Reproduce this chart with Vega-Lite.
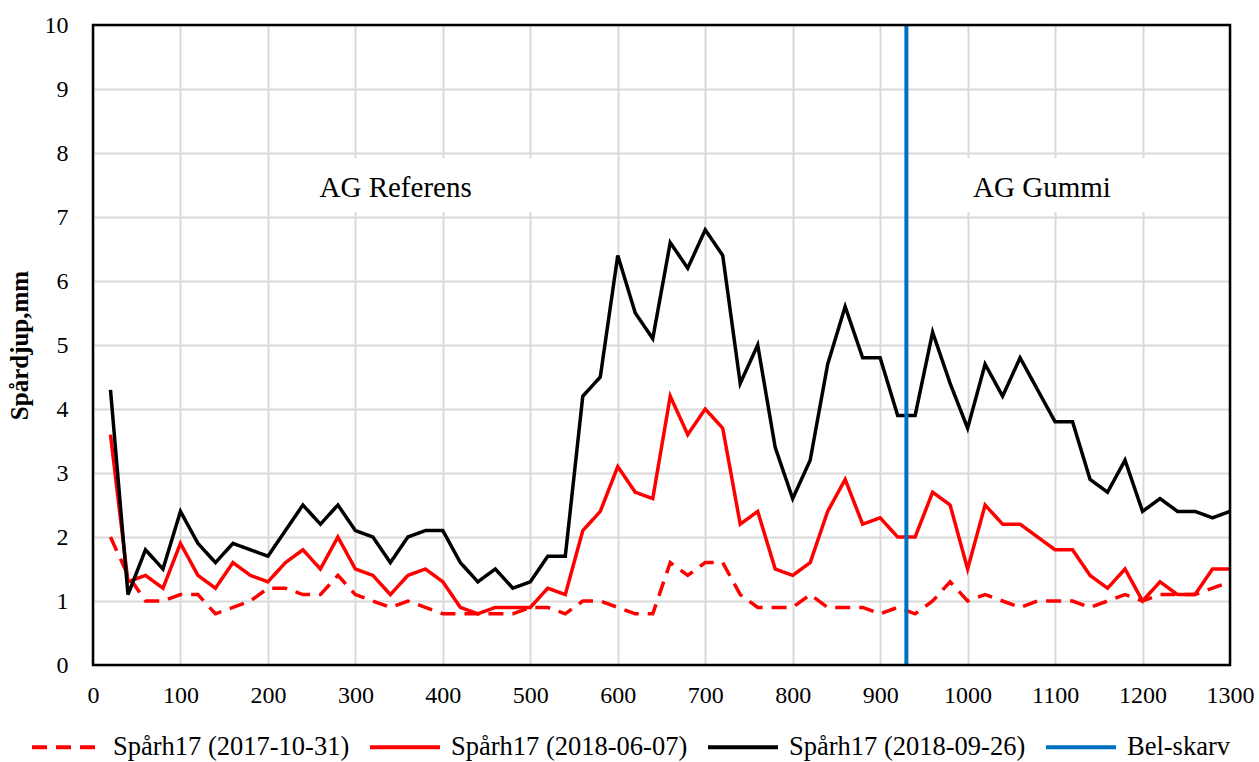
{
  "$schema": "https://vega.github.io/schema/vega-lite/v6.json",
  "width": 1137,
  "height": 640,
  "autosize": {"type": "none"},
  "padding": {"left": 93, "top": 25, "right": 29, "bottom": 97},
  "background": "white",
  "config": {
    "view": {"stroke": null},
    "font": "Liberation Serif",
    "axis": {
      "labelFont": "Liberation Serif",
      "labelFontSize": 24,
      "labelColor": "black",
      "titleFont": "Liberation Serif",
      "titleColor": "black",
      "domain": false,
      "ticks": false,
      "gridColor": "#d9d9d9",
      "gridWidth": 2
    },
    "legend": {
      "orient": "none",
      "legendX": -63,
      "legendY": 685,
      "direction": "horizontal",
      "symbolType": "stroke",
      "symbolSize": 4900,
      "symbolStrokeWidth": 4,
      "labelFont": "Liberation Serif",
      "labelFontSize": 26.5,
      "labelColor": "black",
      "labelLimit": 600,
      "labelOffset": 9,
      "columnPadding": 12
    }
  },
  "layer": [
    {
      "data": {"values": [
        {"x1": 205, "x2": 580, "y1": 7.08, "y2": 7.92},
        {"x1": 945, "x2": 1290, "y1": 7.08, "y2": 7.92}
      ]},
      "mark": {"type": "rect", "color": "white"},
      "encoding": {
        "x": {"field": "x1", "type": "quantitative", "title": null},
        "x2": {"field": "x2"},
        "y": {"field": "y1", "type": "quantitative", "title": "Spårdjup,mm"},
        "y2": {"field": "y2"}
      }
    },
    {
      "data": {"values": [
        {"x": 20, "Spårh17 (2017-10-31)": 2.0, "Spårh17 (2018-06-07)": 3.6, "Spårh17 (2018-09-26)": 4.3},
        {"x": 40, "Spårh17 (2017-10-31)": 1.4, "Spårh17 (2018-06-07)": 1.3, "Spårh17 (2018-09-26)": 1.1},
        {"x": 60, "Spårh17 (2017-10-31)": 1.0, "Spårh17 (2018-06-07)": 1.4, "Spårh17 (2018-09-26)": 1.8},
        {"x": 80, "Spårh17 (2017-10-31)": 1.0, "Spårh17 (2018-06-07)": 1.2, "Spårh17 (2018-09-26)": 1.5},
        {"x": 100, "Spårh17 (2017-10-31)": 1.1, "Spårh17 (2018-06-07)": 1.9, "Spårh17 (2018-09-26)": 2.4},
        {"x": 120, "Spårh17 (2017-10-31)": 1.1, "Spårh17 (2018-06-07)": 1.4, "Spårh17 (2018-09-26)": 1.9},
        {"x": 140, "Spårh17 (2017-10-31)": 0.8, "Spårh17 (2018-06-07)": 1.2, "Spårh17 (2018-09-26)": 1.6},
        {"x": 160, "Spårh17 (2017-10-31)": 0.9, "Spårh17 (2018-06-07)": 1.6, "Spårh17 (2018-09-26)": 1.9},
        {"x": 180, "Spårh17 (2017-10-31)": 1.0, "Spårh17 (2018-06-07)": 1.4, "Spårh17 (2018-09-26)": 1.8},
        {"x": 200, "Spårh17 (2017-10-31)": 1.2, "Spårh17 (2018-06-07)": 1.3, "Spårh17 (2018-09-26)": 1.7},
        {"x": 220, "Spårh17 (2017-10-31)": 1.2, "Spårh17 (2018-06-07)": 1.6, "Spårh17 (2018-09-26)": 2.1},
        {"x": 240, "Spårh17 (2017-10-31)": 1.1, "Spårh17 (2018-06-07)": 1.8, "Spårh17 (2018-09-26)": 2.5},
        {"x": 260, "Spårh17 (2017-10-31)": 1.1, "Spårh17 (2018-06-07)": 1.5, "Spårh17 (2018-09-26)": 2.2},
        {"x": 280, "Spårh17 (2017-10-31)": 1.4, "Spårh17 (2018-06-07)": 2.0, "Spårh17 (2018-09-26)": 2.5},
        {"x": 300, "Spårh17 (2017-10-31)": 1.1, "Spårh17 (2018-06-07)": 1.5, "Spårh17 (2018-09-26)": 2.1},
        {"x": 320, "Spårh17 (2017-10-31)": 1.0, "Spårh17 (2018-06-07)": 1.4, "Spårh17 (2018-09-26)": 2.0},
        {"x": 340, "Spårh17 (2017-10-31)": 0.9, "Spårh17 (2018-06-07)": 1.1, "Spårh17 (2018-09-26)": 1.6},
        {"x": 360, "Spårh17 (2017-10-31)": 1.0, "Spårh17 (2018-06-07)": 1.4, "Spårh17 (2018-09-26)": 2.0},
        {"x": 380, "Spårh17 (2017-10-31)": 0.9, "Spårh17 (2018-06-07)": 1.5, "Spårh17 (2018-09-26)": 2.1},
        {"x": 400, "Spårh17 (2017-10-31)": 0.8, "Spårh17 (2018-06-07)": 1.3, "Spårh17 (2018-09-26)": 2.1},
        {"x": 420, "Spårh17 (2017-10-31)": 0.8, "Spårh17 (2018-06-07)": 0.9, "Spårh17 (2018-09-26)": 1.6},
        {"x": 440, "Spårh17 (2017-10-31)": 0.8, "Spårh17 (2018-06-07)": 0.8, "Spårh17 (2018-09-26)": 1.3},
        {"x": 460, "Spårh17 (2017-10-31)": 0.8, "Spårh17 (2018-06-07)": 0.9, "Spårh17 (2018-09-26)": 1.5},
        {"x": 480, "Spårh17 (2017-10-31)": 0.8, "Spårh17 (2018-06-07)": 0.9, "Spårh17 (2018-09-26)": 1.2},
        {"x": 500, "Spårh17 (2017-10-31)": 0.9, "Spårh17 (2018-06-07)": 0.9, "Spårh17 (2018-09-26)": 1.3},
        {"x": 520, "Spårh17 (2017-10-31)": 0.9, "Spårh17 (2018-06-07)": 1.2, "Spårh17 (2018-09-26)": 1.7},
        {"x": 540, "Spårh17 (2017-10-31)": 0.8, "Spårh17 (2018-06-07)": 1.1, "Spårh17 (2018-09-26)": 1.7},
        {"x": 560, "Spårh17 (2017-10-31)": 1.0, "Spårh17 (2018-06-07)": 2.1, "Spårh17 (2018-09-26)": 4.2},
        {"x": 580, "Spårh17 (2017-10-31)": 1.0, "Spårh17 (2018-06-07)": 2.4, "Spårh17 (2018-09-26)": 4.5},
        {"x": 600, "Spårh17 (2017-10-31)": 0.9, "Spårh17 (2018-06-07)": 3.1, "Spårh17 (2018-09-26)": 6.4},
        {"x": 620, "Spårh17 (2017-10-31)": 0.8, "Spårh17 (2018-06-07)": 2.7, "Spårh17 (2018-09-26)": 5.5},
        {"x": 640, "Spårh17 (2017-10-31)": 0.8, "Spårh17 (2018-06-07)": 2.6, "Spårh17 (2018-09-26)": 5.1},
        {"x": 660, "Spårh17 (2017-10-31)": 1.6, "Spårh17 (2018-06-07)": 4.2, "Spårh17 (2018-09-26)": 6.6},
        {"x": 680, "Spårh17 (2017-10-31)": 1.4, "Spårh17 (2018-06-07)": 3.6, "Spårh17 (2018-09-26)": 6.2},
        {"x": 700, "Spårh17 (2017-10-31)": 1.6, "Spårh17 (2018-06-07)": 4.0, "Spårh17 (2018-09-26)": 6.8},
        {"x": 720, "Spårh17 (2017-10-31)": 1.6, "Spårh17 (2018-06-07)": 3.7, "Spårh17 (2018-09-26)": 6.4},
        {"x": 740, "Spårh17 (2017-10-31)": 1.1, "Spårh17 (2018-06-07)": 2.2, "Spårh17 (2018-09-26)": 4.4},
        {"x": 760, "Spårh17 (2017-10-31)": 0.9, "Spårh17 (2018-06-07)": 2.4, "Spårh17 (2018-09-26)": 5.0},
        {"x": 780, "Spårh17 (2017-10-31)": 0.9, "Spårh17 (2018-06-07)": 1.5, "Spårh17 (2018-09-26)": 3.4},
        {"x": 800, "Spårh17 (2017-10-31)": 0.9, "Spårh17 (2018-06-07)": 1.4, "Spårh17 (2018-09-26)": 2.6},
        {"x": 820, "Spårh17 (2017-10-31)": 1.1, "Spårh17 (2018-06-07)": 1.6, "Spårh17 (2018-09-26)": 3.2},
        {"x": 840, "Spårh17 (2017-10-31)": 0.9, "Spårh17 (2018-06-07)": 2.4, "Spårh17 (2018-09-26)": 4.7},
        {"x": 860, "Spårh17 (2017-10-31)": 0.9, "Spårh17 (2018-06-07)": 2.9, "Spårh17 (2018-09-26)": 5.6},
        {"x": 880, "Spårh17 (2017-10-31)": 0.9, "Spårh17 (2018-06-07)": 2.2, "Spårh17 (2018-09-26)": 4.8},
        {"x": 900, "Spårh17 (2017-10-31)": 0.8, "Spårh17 (2018-06-07)": 2.3, "Spårh17 (2018-09-26)": 4.8},
        {"x": 920, "Spårh17 (2017-10-31)": 0.9, "Spårh17 (2018-06-07)": 2.0, "Spårh17 (2018-09-26)": 3.9},
        {"x": 940, "Spårh17 (2017-10-31)": 0.8, "Spårh17 (2018-06-07)": 2.0, "Spårh17 (2018-09-26)": 3.9},
        {"x": 960, "Spårh17 (2017-10-31)": 1.0, "Spårh17 (2018-06-07)": 2.7, "Spårh17 (2018-09-26)": 5.2},
        {"x": 980, "Spårh17 (2017-10-31)": 1.3, "Spårh17 (2018-06-07)": 2.5, "Spårh17 (2018-09-26)": 4.4},
        {"x": 1000, "Spårh17 (2017-10-31)": 1.0, "Spårh17 (2018-06-07)": 1.5, "Spårh17 (2018-09-26)": 3.7},
        {"x": 1020, "Spårh17 (2017-10-31)": 1.1, "Spårh17 (2018-06-07)": 2.5, "Spårh17 (2018-09-26)": 4.7},
        {"x": 1040, "Spårh17 (2017-10-31)": 1.0, "Spårh17 (2018-06-07)": 2.2, "Spårh17 (2018-09-26)": 4.2},
        {"x": 1060, "Spårh17 (2017-10-31)": 0.9, "Spårh17 (2018-06-07)": 2.2, "Spårh17 (2018-09-26)": 4.8},
        {"x": 1080, "Spårh17 (2017-10-31)": 1.0, "Spårh17 (2018-06-07)": 2.0, "Spårh17 (2018-09-26)": 4.3},
        {"x": 1100, "Spårh17 (2017-10-31)": 1.0, "Spårh17 (2018-06-07)": 1.8, "Spårh17 (2018-09-26)": 3.8},
        {"x": 1120, "Spårh17 (2017-10-31)": 1.0, "Spårh17 (2018-06-07)": 1.8, "Spårh17 (2018-09-26)": 3.8},
        {"x": 1140, "Spårh17 (2017-10-31)": 0.9, "Spårh17 (2018-06-07)": 1.4, "Spårh17 (2018-09-26)": 2.9},
        {"x": 1160, "Spårh17 (2017-10-31)": 1.0, "Spårh17 (2018-06-07)": 1.2, "Spårh17 (2018-09-26)": 2.7},
        {"x": 1180, "Spårh17 (2017-10-31)": 1.1, "Spårh17 (2018-06-07)": 1.5, "Spårh17 (2018-09-26)": 3.2},
        {"x": 1200, "Spårh17 (2017-10-31)": 1.0, "Spårh17 (2018-06-07)": 1.0, "Spårh17 (2018-09-26)": 2.4},
        {"x": 1220, "Spårh17 (2017-10-31)": 1.1, "Spårh17 (2018-06-07)": 1.3, "Spårh17 (2018-09-26)": 2.6},
        {"x": 1240, "Spårh17 (2017-10-31)": 1.1, "Spårh17 (2018-06-07)": 1.1, "Spårh17 (2018-09-26)": 2.4},
        {"x": 1260, "Spårh17 (2017-10-31)": 1.1, "Spårh17 (2018-06-07)": 1.1, "Spårh17 (2018-09-26)": 2.4},
        {"x": 1280, "Spårh17 (2017-10-31)": 1.2, "Spårh17 (2018-06-07)": 1.5, "Spårh17 (2018-09-26)": 2.3},
        {"x": 1300, "Spårh17 (2017-10-31)": 1.3, "Spårh17 (2018-06-07)": 1.5, "Spårh17 (2018-09-26)": 2.4}
      ]},
      "transform": [
        {"fold": ["Spårh17 (2017-10-31)", "Spårh17 (2018-06-07)", "Spårh17 (2018-09-26)"], "as": ["serie", "mm"]}
      ],
      "mark": {"type": "line", "strokeWidth": 3.5},
      "encoding": {
        "x": {
          "field": "x", "type": "quantitative", "title": null,
          "scale": {"domain": [0, 1300], "nice": false, "zero": false},
          "axis": {"values": [0, 100, 200, 300, 400, 500, 600, 700, 800, 900, 1000, 1100, 1200, 1300], "format": "d", "labelPadding": 18, "labelFlush": false}
        },
        "y": {
          "field": "mm", "type": "quantitative", "title": "Spårdjup,mm",
          "scale": {"domain": [0, 10], "nice": false},
          "axis": {"values": [0, 1, 2, 3, 4, 5, 6, 7, 8, 9, 10], "format": "d", "labelPadding": 25, "titlePadding": 12, "titleFontSize": 25, "titleFontWeight": "bold"}
        },
        "color": {
          "field": "serie", "type": "nominal", "legend": {"title": null},
          "scale": {
            "domain": ["Spårh17 (2017-10-31)", "Spårh17 (2018-06-07)", "Spårh17 (2018-09-26)", "Bel-skarv"],
            "range": ["#ff0000", "#ff0000", "#000000", "#0070c0"]
          }
        },
        "strokeDash": {
          "field": "serie", "type": "nominal", "legend": {"title": null},
          "scale": {
            "domain": ["Spårh17 (2017-10-31)", "Spårh17 (2018-06-07)", "Spårh17 (2018-09-26)", "Bel-skarv"],
            "range": [[15, 9], [1, 0], [1, 0], [1, 0]]
          }
        }
      }
    },
    {
      "data": {"values": [{"x": 930, "serie": "Bel-skarv"}]},
      "mark": {"type": "rule", "strokeWidth": 4},
      "encoding": {
        "x": {"field": "x", "type": "quantitative", "title": null},
        "color": {"field": "serie", "type": "nominal", "legend": {"title": null}},
        "strokeDash": {"field": "serie", "type": "nominal", "legend": {"title": null}}
      }
    },
    {
      "data": {"values": [
        {"x": 346, "y": 7.45, "t": "AG Referens"},
        {"x": 1085, "y": 7.45, "t": "AG Gummi"}
      ]},
      "mark": {"type": "text", "fontSize": 29, "font": "Liberation Serif", "color": "black"},
      "encoding": {
        "x": {"field": "x", "type": "quantitative", "title": null},
        "y": {"field": "y", "type": "quantitative", "title": "Spårdjup,mm"},
        "text": {"field": "t"}
      }
    },
    {
      "data": {"values": [{}]},
      "mark": {"type": "rect", "filled": false, "color": "black", "strokeWidth": 2.5},
      "encoding": {
        "x": {"datum": 0, "type": "quantitative", "title": null},
        "x2": {"datum": 1300},
        "y": {"datum": 0, "type": "quantitative", "title": "Spårdjup,mm"},
        "y2": {"datum": 10}
      }
    }
  ]
}
